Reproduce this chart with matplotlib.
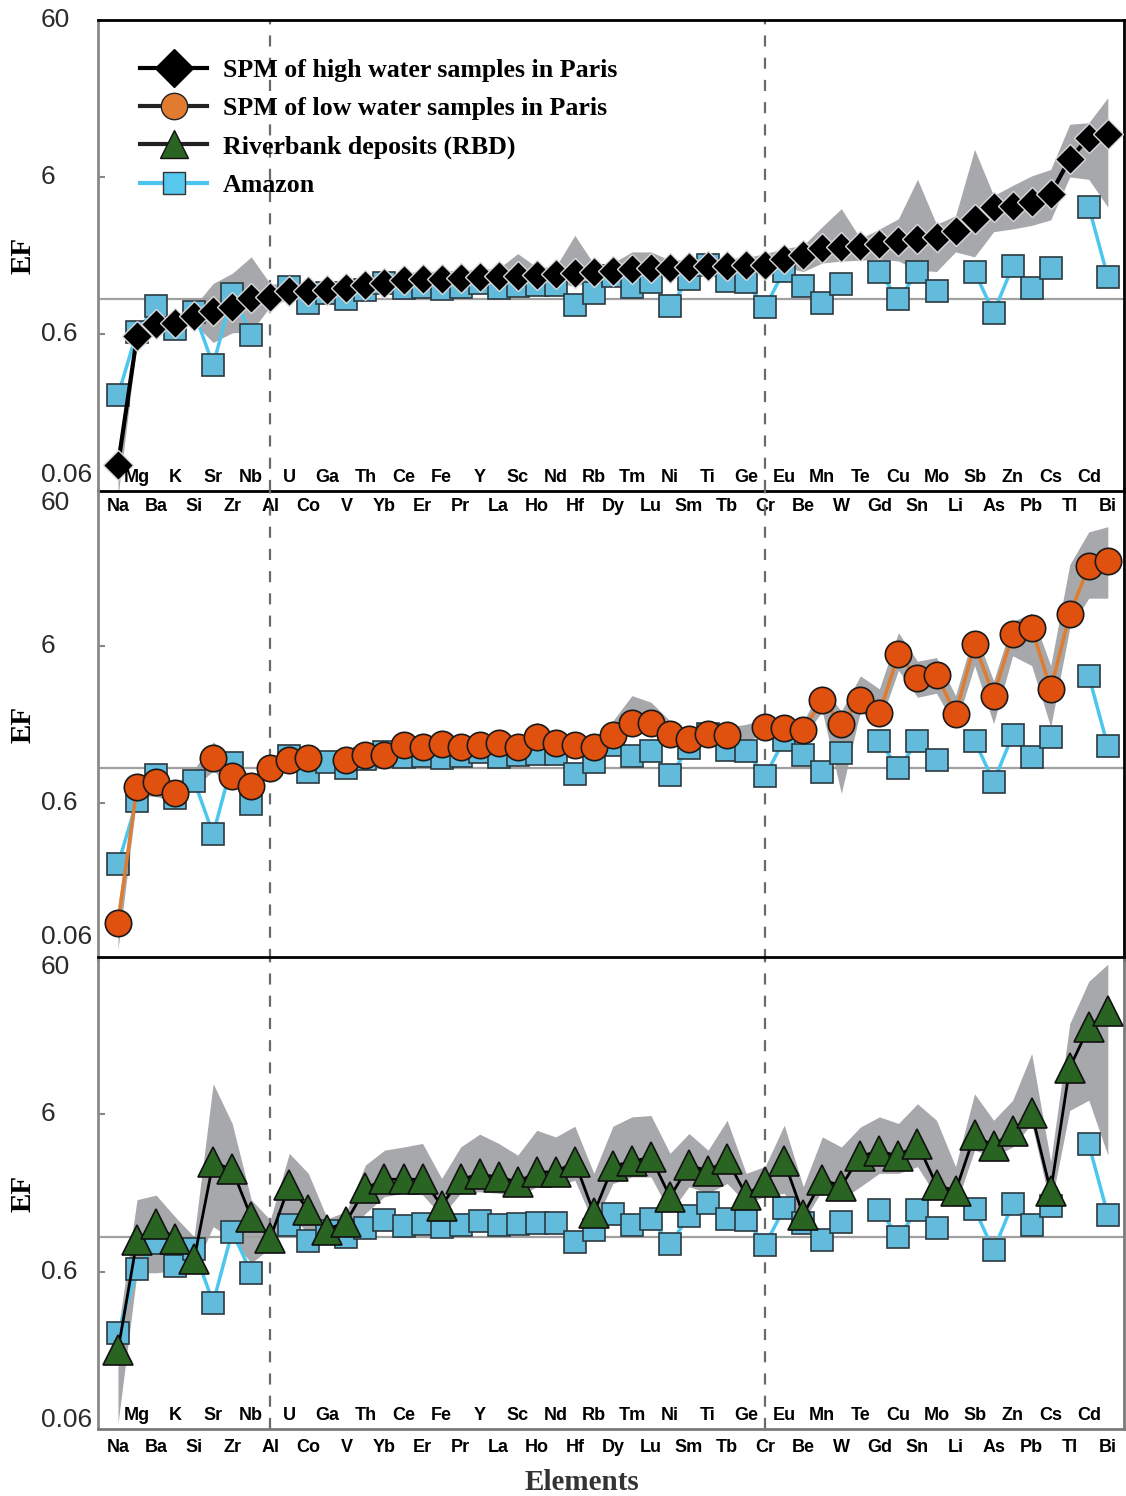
import numpy as np
import matplotlib
matplotlib.use("Agg")
import matplotlib.pyplot as plt
import matplotlib.transforms as mtransforms
from matplotlib.lines import Line2D

nan = np.nan

elements = ["Na", "Mg", "Ba", "K", "Si", "Sr", "Zr", "Nb", "Al", "U",
            "Co", "Ga", "V", "Th", "Yb", "Ce", "Er", "Fe", "Pr", "Y",
            "La", "Sc", "Ho", "Nd", "Hf", "Rb", "Dy", "Tm", "Lu", "Ni",
            "Sm", "Ti", "Tb", "Ge", "Cr", "Eu", "Be", "Mn", "W", "Te",
            "Gd", "Cu", "Sn", "Mo", "Li", "Sb", "As", "Zn", "Pb", "Cs",
            "Tl", "Cd", "Bi"]

# SPM, high water (median and min/max envelope)
high_water = [0.088, 0.58, 0.69, 0.70, 0.78, 0.84, 0.89, 1.01, 1.03, 1.12,
              1.12, 1.15, 1.17, 1.23, 1.26, 1.32, 1.34, 1.35, 1.37, 1.38,
              1.40, 1.41, 1.43, 1.44, 1.46, 1.49, 1.52, 1.55, 1.57, 1.58,
              1.60, 1.62, 1.63, 1.64, 1.65, 1.80, 1.90, 2.12, 2.16, 2.18,
              2.26, 2.33, 2.43, 2.50, 2.73, 3.25, 3.88, 3.93, 4.17, 4.69,
              7.8, 10.7, 11.2]
high_lo = [0.055, 0.54, 0.64, 0.64, 0.70, 0.53, 0.61, 0.62, 0.90, 1.00,
           1.00, 1.03, 1.05, 1.10, 1.13, 1.18, 1.20, 1.21, 1.23, 1.24,
           1.26, 1.27, 1.28, 1.29, 1.20, 1.33, 1.36, 1.39, 1.41, 1.42,
           1.44, 1.45, 1.46, 1.47, 1.45, 1.60, 1.50, 1.70, 1.75, 1.77,
           1.80, 1.75, 1.53, 1.50, 2.00, 1.86, 2.69, 2.80, 2.95, 3.20,
           6.0, 5.8, 3.86]
high_hi = [0.11, 0.64, 0.76, 0.78, 0.90, 1.26, 1.46, 1.86, 1.25, 1.25,
           1.25, 1.29, 1.31, 1.38, 1.41, 1.48, 1.50, 1.51, 1.53, 1.55,
           1.57, 1.95, 1.60, 1.61, 2.55, 1.67, 1.70, 2.00, 2.00, 1.77,
           1.80, 1.87, 1.83, 1.84, 1.95, 2.10, 2.20, 2.90, 3.77, 2.43,
           2.80, 3.25, 5.80, 3.00, 3.40, 9.00, 4.57, 5.30, 6.10, 6.70,
           13.0, 13.3, 19.2]

# SPM, low water
low_water = [0.103, 0.76, 0.82, 0.69, nan, 1.16, 0.89, 0.77, 1.00, 1.12,
             1.16, nan, 1.12, 1.21, 1.21, 1.41, 1.36, 1.43, 1.36, 1.40,
             1.45, 1.36, 1.59, 1.45, 1.40, 1.36, 1.62, 1.94, 1.94, 1.64,
             1.54, 1.64, 1.63, nan, 1.84, 1.81, 1.76, 2.72, 1.92, 2.72,
             2.24, 5.32, 3.78, 3.94, 2.22, 6.15, 2.90, 7.12, 7.84, 3.19,
             9.53, 19.3, 20.9]
low_lo = [0.07, 0.67, 0.66, 0.61, 0.75, 0.96, 0.78, 0.68, 0.92, 1.00,
          1.03, 1.00, 1.00, 1.08, 1.08, 1.25, 1.21, 1.27, 1.21, 1.25,
          1.29, 1.00, 1.41, 1.29, 1.25, 1.21, 1.44, 1.72, 1.72, 1.46,
          1.37, 1.46, 1.45, 1.50, 1.64, 1.61, 1.57, 2.30, 0.69, 2.30,
          1.90, 4.20, 2.83, 3.00, 1.83, 4.50, 1.92, 5.20, 4.50, 1.83,
          7.8, 12.1, 12.1]
low_hi = [0.135, 0.88, 0.95, 0.80, 0.98, 1.47, 1.15, 0.88, 1.10, 1.26,
          1.30, 1.25, 1.26, 1.36, 1.36, 1.58, 1.53, 1.61, 1.53, 1.58,
          1.63, 1.53, 1.96, 1.63, 1.58, 1.53, 2.00, 2.90, 2.63, 2.00,
          1.73, 1.84, 1.83, 1.90, 2.07, 2.03, 1.98, 3.35, 2.30, 3.87,
          3.20, 7.30, 4.80, 5.06, 2.90, 7.50, 3.60, 8.60, 9.70, 4.50,
          19.8, 32.0, 34.5]

# Riverbank deposits (RBD)
rbd = [0.19, 0.95, 1.20, 0.97, 0.72, 2.97, 2.68, 1.33, 0.98, 2.12,
       1.48, 1.11, 1.25, 2.03, 2.32, 2.32, 2.32, 1.58, 2.33, 2.49,
       2.40, 2.23, 2.58, 2.58, 3.00, 1.41, 2.81, 3.01, 3.21, 1.79,
       2.84, 2.63, 3.10, 1.84, 2.23, 3.01, 1.38, 2.31, 2.10, 3.27,
       3.49, 3.27, 3.90, 2.14, 1.95, 4.44, 3.77, 4.73, 6.09, 1.94,
       11.9, 21.4, 27.3]
rbd_lo = [0.065, 0.59, 0.59, 0.61, 0.62, 1.16, 0.96, 0.68, 0.85, 1.42,
          1.04, 0.89, 1.05, 1.41, 1.80, 1.89, 1.85, 1.35, 1.89, 1.93,
          1.89, 1.80, 2.08, 2.08, 2.29, 1.20, 2.18, 2.40, 2.40, 1.42,
          2.08, 1.89, 2.18, 1.64, 1.80, 1.89, 1.25, 1.97, 1.72, 2.08,
          2.53, 2.53, 2.79, 1.80, 1.56, 3.55, 3.22, 3.72, 5.25, 1.56,
          6.36, 7.37, 3.30]
rbd_hi = [0.25, 1.72, 1.84, 1.34, 1.00, 9.40, 5.25, 1.72, 1.28, 3.39,
          2.53, 1.30, 1.45, 2.86, 3.55, 3.72, 3.92, 2.35, 3.72, 4.49,
          3.92, 3.30, 4.75, 4.31, 5.04, 2.53, 5.04, 5.78, 5.90, 3.39,
          4.53, 3.55, 5.50, 2.53, 2.80, 5.12, 2.08, 4.31, 3.72, 4.98,
          5.78, 5.25, 7.00, 5.50, 2.79, 8.10, 5.50, 7.37, 14.6, 3.00,
          22.6, 42.0, 54.0]

# Amazon reference, shown in every panel
amazon = [0.244, 0.62, 0.91, 0.65, 0.83, 0.38, 1.08, 0.59, nan, 1.19,
          0.94, 1.09, 1.00, 1.14, 1.27, 1.17, 1.20, 1.16, 1.19, 1.26,
          1.18, 1.21, 1.23, 1.23, 0.92, 1.10, 1.40, 1.19, 1.29, 0.90,
          1.35, 1.65, 1.30, 1.28, 0.89, 1.52, 1.22, 0.95, 1.25, nan,
          1.48, 1.00, 1.48, 1.13, nan, 1.50, 0.82, 1.62, 1.18, 1.58,
          nan, 3.88, 1.38]

yticks = [0.06, 0.6, 6, 60]
ytick_text = ["0.06", "0.6", "6", "60"]

BAND = "#a7a8ab"
AMZ_LINE = "#4cc6ee"
AMZ_FACE = "#62bbdb"
ORANGE_LINE = "#e07b2f"
ORANGE_FACE = "#e0500e"
GREEN_FACE = "#2a6422"

SANS = "Liberation Sans"
SERIF = "Liberation Serif"

x = np.arange(len(elements))

fig = plt.figure(figsize=(11.26, 14.96), dpi=100)
W, H = 1126.0, 1496.0


def panel(top_px, bottom_px):
    ax = fig.add_axes([98 / W, 1 - bottom_px / H, 1026 / W, (bottom_px - top_px) / H])
    ax.patch.set_visible(False)  # let the labels of the panel above show through
    return ax


ax_hi = panel(20, 491)
ax_lo = panel(489, 960)
ax_rb = panel(957, 1429)


def base(ax, label_offsets):
    ax.set_yscale("log")
    ax.set_ylim(0.06, 60)
    ax.set_xlim(-1.05, 52.85)
    ax.set_xticks([])
    ax.set_yticks([0.6, 6])
    ax.yaxis.set_minor_locator(matplotlib.ticker.NullLocator())
    ax.set_yticklabels([])
    ax.tick_params(axis="y", direction="in", length=5, width=1.5, color="#888888")
    for s in ax.spines.values():
        s.set_linewidth(2)
        s.set_color("black")
    ax.spines["left"].set_color("#8a8a8a")
    ax.axhline(1.0, color="#a0a0a0", lw=1.6, zorder=1.5)
    for xv in (8, 34):
        ax.axvline(xv, color="#6a6a6a", lw=1.6, ls=(0, (5, 5)), zorder=1.2)
    ax.plot(x, amazon, "-s", color=AMZ_LINE, lw=2.5, ms=15.5, mfc=AMZ_FACE,
            mec="#2b3a40", mew=1.2, zorder=3)
    # y tick labels, left aligned on the figure margin
    tr = mtransforms.blended_transform_factory(fig.transFigure, ax.transData)
    for val, txt, dy in zip(yticks, ytick_text, label_offsets):
        t = mtransforms.offset_copy(tr, fig=fig, y=dy, units="dots")
        ax.text(41 / W, val, txt, transform=t, ha="left", va="center",
                fontsize=19, family=SANS, color="#2a2a2a")


def element_labels(ax, up_dy, down_dy):
    trx = ax.get_xaxis_transform()
    for i, name in enumerate(elements):
        dy = up_dy if i % 2 else -down_dy
        t = mtransforms.offset_copy(trx, fig=fig, y=dy, units="dots")
        ax.text(i, 0, name, transform=t, ha="center", va="center",
                fontsize=13, family=SANS, fontweight="bold", color="black",
                clip_on=False, zorder=6)


base(ax_hi, [16, 0, 0, 0])
base(ax_lo, [23, 0, 0, -14])
base(ax_rb, [9, 0, 0, -10])

# panels share their borders: keep one line at each junction
ax_lo.spines["top"].set_visible(False)
ax_lo.spines["bottom"].set_visible(False)

# high water
ax_hi.fill_between(x, high_lo, high_hi, color=BAND, lw=0, zorder=1)
ax_hi.plot(x, high_water, "-D", color="black", lw=3, ms=15.5, mfc="black",
           mec="#d8d8d8", mew=1.0, zorder=4)

# low water
ax_lo.fill_between(x, low_lo, low_hi, color=BAND, lw=0, zorder=1)
ax_lo.plot(x, low_water, "-o", color=ORANGE_LINE, lw=2.5, ms=19, mfc=ORANGE_FACE,
           mec="#1a1a1a", mew=1.2, zorder=4)

# riverbank deposits
ax_rb.fill_between(x, rbd_lo, rbd_hi, color=BAND, lw=0, zorder=1)
ax_rb.plot(x, rbd, "-^", color="black", lw=2, ms=21, mfc=GREEN_FACE,
           mec="#111111", mew=1.2, zorder=4)

for s in ("bottom", "right"):
    ax_rb.spines[s].set_color("#7a7a7a")

element_labels(ax_hi, 13, 16)
element_labels(ax_rb, 14, 18)

for ax in (ax_hi, ax_lo, ax_rb):
    pos = ax.get_position()
    fig.text(23 / W, (pos.y0 + pos.y1) / 2, "EF", rotation=90, ha="center",
             va="center", fontsize=21, family=SERIF, fontweight="bold")

fig.text(582 / W, 1 - 1483 / H, "Elements", ha="center", va="center",
         fontsize=21, family=SERIF, fontweight="bold", color="#333333")

handles = [
    Line2D([], [], color="black", lw=3, marker="D", ms=19, mfc="black", mec="black"),
    Line2D([], [], color="#222222", lw=3, marker="o", ms=19, mfc=ORANGE_LINE, mec="#222222"),
    Line2D([], [], color="#222222", lw=3, marker="^", ms=20, mfc=GREEN_FACE, mec="#111111"),
    Line2D([], [], color=AMZ_LINE, lw=3, marker="s", ms=16, mfc="#56c8ee", mec="#333333"),
]
labels = ["SPM of high water samples in Paris",
          "SPM of low water samples in Paris",
          "Riverbank deposits (RBD)",
          "Amazon"]
ax_hi.legend(handles, labels, loc="upper left",
             bbox_to_anchor=((140 - 98) / 1026, (491 - 59) / 471),
             frameon=False, borderpad=0, borderaxespad=0, handlelength=2.6,
             handletextpad=0.62, labelspacing=0.58,
             prop={"family": SERIF, "weight": "bold", "size": 18.6})

fig.savefig("out.png", dpi=100)
